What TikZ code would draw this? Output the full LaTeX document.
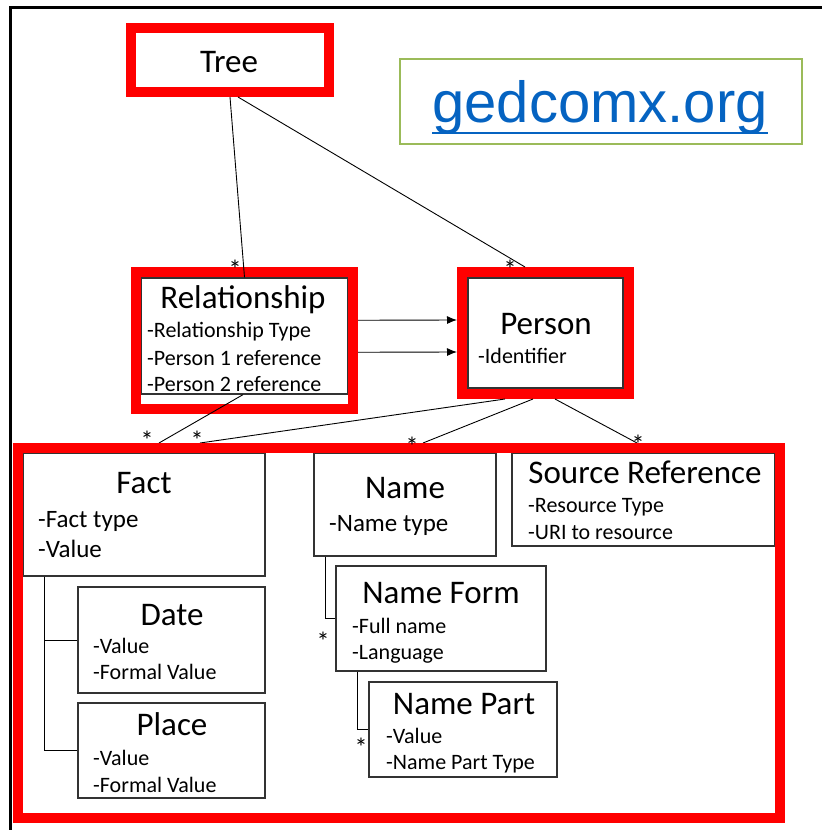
\documentclass[tikz,border=0pt]{standalone}
\usepackage{fontspec}
\setmainfont{Carlito}
\newfontfamily\linkfont{Liberation Sans}
\usetikzlibrary{calc,arrows.meta}

\definecolor{linkblue}{RGB}{5,99,193}
\definecolor{logogreen}{RGB}{155,187,89}

\tikzset{
  hilite/.style={draw=red, line width=10pt, inner sep=0pt},
  umlbox/.style={draw=black!80, line width=1.3pt, inner sep=0pt},
  boxtitle/.style={anchor=base, inner sep=0pt, font=\fontsize{33}{38}\selectfont},
  attr/.style={anchor=base west, inner sep=0pt, font=\fontsize{22}{26}\selectfont},
  bigattr/.style={anchor=base west, inner sep=0pt, font=\fontsize{25}{29}\selectfont},
  star/.style={anchor=base, inner sep=0pt, font=\fontsize{26}{30}\selectfont},
  link/.style={line width=0.9pt},
}

\begin{document}
\begin{tikzpicture}[x=1pt,y=-1pt]
  \useasboundingbox (0,0) rectangle (822,830);

  % Draw frame
  \draw [line width=3pt] (10,830) -- (10,7) -- (822,7);

  % Logo
  \node [draw=logogreen, line width=1.3pt, minimum width=402pt, minimum height=85pt, inner sep=0pt] at (601, 101.5) (logo) {};
  \node [anchor=base, inner sep=0pt, text=linkblue, font=\linkfont\fontsize{58}{66}\selectfont] at (600, 122) (logotext) {gedcomx.org};
  \draw [linkblue, line width=1.2pt] ($(logotext.base west)+(0,11)$) -- ($(logotext.base east)+(0,11)$);

  % Class boxes
  \node [umlbox, minimum width=207pt, minimum height=116pt] at (244.5, 336) (relbox) {};
  \node [umlbox, minimum width=155pt, minimum height=110pt] at (545.5, 333) (personbox) {};
  \node [umlbox, minimum width=242pt, minimum height=123pt] at (144, 514.5) (fact) {};
  \node [umlbox, minimum width=187pt, minimum height=106pt] at (171.5, 640) (date) {};
  \node [umlbox, minimum width=187pt, minimum height=95pt] at (171.5, 750.5) (place) {};
  \node [umlbox, minimum width=182pt, minimum height=103pt] at (405, 504.5) (name) {};
  \node [umlbox, minimum width=210pt, minimum height=105pt] at (441, 618.5) (nameform) {};
  \node [umlbox, minimum width=188pt, minimum height=95pt] at (463, 729.5) (namepart) {};
  \node [umlbox, minimum width=263pt, minimum height=93pt] at (643.5, 499.5) (srcref) {};

  % Highlights
  \node [hilite, minimum width=198pt, minimum height=64pt] at (230, 60) (tree) {};
  \node [hilite, minimum width=217.5pt, minimum height=137.5pt] at (244.25, 340.25) (rel) {};
  \node [hilite, minimum width=167pt, minimum height=122pt] at (545.5, 333) (person) {};

  % Links
  \draw [link] (tree.south) -- (relbox.north);
  \draw [link] ($(tree.south)+(8,0)$) -- ($(person.north)+(-20.5,0)$);
  \draw [link] ($(relbox.south)+(-1.5,0)$) -- ($(person.south)+(-386.5,44)$) coordinate (factend);
  \draw [link] ($(person.south)+(-40.5,0)$) -- ($(person.south)+(-345.5,44)$) coordinate (factend2);
  \draw [link] ($(person.south)+(-12.5,0)$) -- ($(person.south)+(-122.5,44)$) coordinate (nameend);
  \draw [link] ($(person.south)+(9.5,0)$) -- ($(person.south)+(91.5,44)$) coordinate (srcend);
  \draw [link, -{Latex[length=10pt,width=8pt]}] ($(rel.east)+(0,-20)$) -- ($(person.west)+(0,-13)$);
  \draw [link, -{Latex[length=10pt,width=8pt]}] ($(rel.east)+(0,12)$) -- ($(person.west)+(0,19)$);
  \draw [link] ($(fact.south west)+(22,0)$) |- (date.west);
  \draw [link] ($(fact.south west)+(22,0)$) |- (place.west);
  \draw [link] ($(name.south west)+(12,0)$) |- (nameform.west);
  \draw [link] ($(nameform.south west)+(22,0)$) |- (namepart.west);

  \node [hilite, minimum width=762pt, minimum height=370pt] at (399, 633) (record) {};

  % Texts
  \node [boxtitle] at (229, 72) (treetitle) {Tree};
  \node [boxtitle] at (243, 308) (reltitle) {Relationship};
  \node [attr] at (147, 337) (relattra) {-Relationship Type};
  \node [attr] at (147, 365) (relattrb) {-Person 1 reference};
  \node [attr] at (147, 391) (relattrc) {-Person 2 reference};
  \node [boxtitle] at (546, 334) (persontitle) {Person};
  \node [attr] at (478, 363) (personattr) {-Identifier};
  \node [boxtitle] at (144, 493) (facttitle) {Fact};
  \node [bigattr] at (38, 527) (factattra) {-Fact type};
  \node [bigattr] at (38, 557) (factattrb) {-Value};
  \node [boxtitle] at (172, 625) (datetitle) {Date};
  \node [attr] at (93, 653) (dateattra) {-Value};
  \node [attr] at (93, 679) (dateattrb) {-Formal Value};
  \node [boxtitle] at (172, 735) (placetitle) {Place};
  \node [attr] at (93, 765) (placeattra) {-Value};
  \node [attr] at (93, 792) (placeattrb) {-Formal Value};
  \node [boxtitle] at (405, 498) (nametitle) {Name};
  \node [bigattr] at (329, 531) (nameattr) {-Name type};
  \node [boxtitle] at (441, 603) (formtitle) {Name Form};
  \node [attr] at (352, 633) (formattra) {-Full name};
  \node [attr] at (352, 659) (formattrb) {-Language};
  \node [boxtitle] at (464, 714) (parttitle) {Name Part};
  \node [attr] at (386, 743) (partattra) {-Value};
  \node [attr] at (386, 769) (partattrb) {-Name Part Type};
  \node [boxtitle] at (645, 483) (srctitle) {Source Reference};
  \node [attr] at (528, 512) (srcattra) {-Resource Type};
  \node [attr] at (528, 539) (srcattrb) {-URI to resource};

  % Multiplicities
  \node [star] at (235, 278) (s1) {*};
  \node [star] at (510, 278) (s2) {*};
  \node [star] at (147, 449) (s3) {*};
  \node [star] at (197, 449) (s4) {*};
  \node [star] at (412, 455) (s5) {*};
  \node [star] at (638, 453) (s6) {*};
  \node [star] at (323, 650) (s7) {*};
  \node [star] at (361, 756) (s8) {*};
\end{tikzpicture}
\end{document}
